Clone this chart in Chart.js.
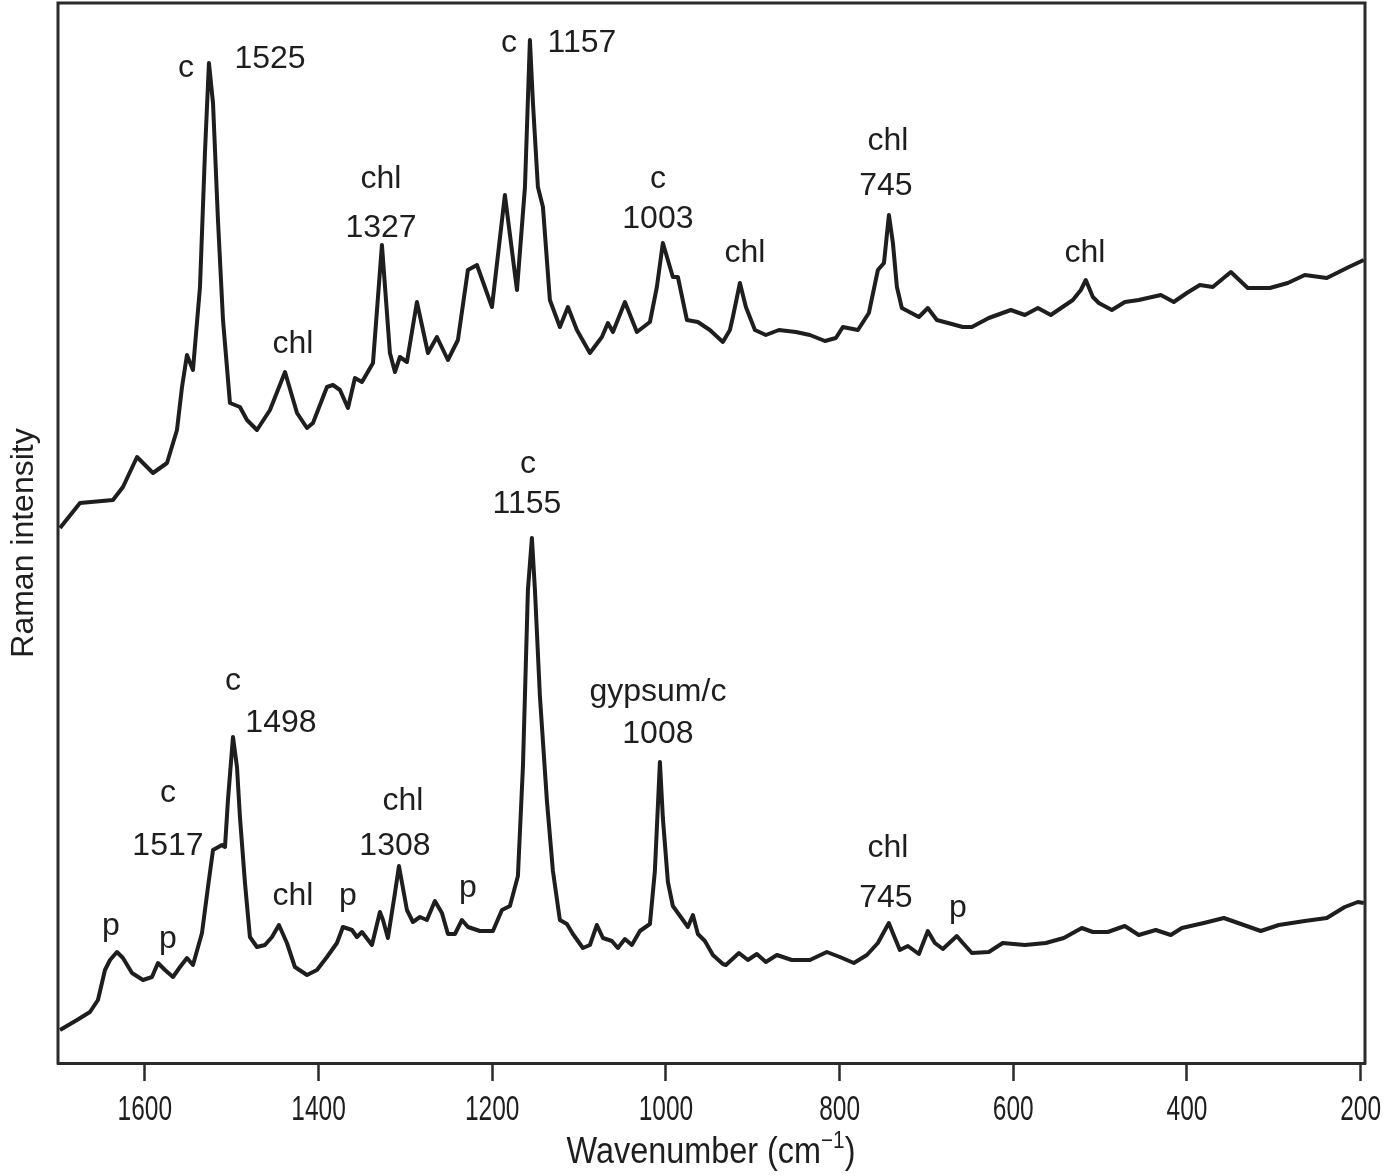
<!DOCTYPE html>
<html>
<head>
<meta charset="utf-8">
<script src="https://cdn.jsdelivr.net/npm/chart.js@4.4.1/dist/chart.umd.min.js"></script>
<style>
html,body{margin:0;padding:0;background:#fff;}
canvas{display:block;}
</style>
</head>
<body>
<canvas id="c" width="1388" height="1176"></canvas>
<script>
// ---------- data (wavenumber in cm-1, intensity in arbitrary units) ----------
const upperWn = [1697.7,1674.7,1636.7,1625.2,1609.0,1590.6,1574.5,1563.0,1557.2,1551.5,1544.6,1536.5,1530.8,1526.2,1521.5,1515.8,1510.0,1502.0,1490.5,1482.4,1470.9,1455.9,1438.6,1424.8,1413.3,1406.4,1390.3,1383.4,1375.3,1366.1,1358.1,1350.0,1337.3,1327.0,1317.8,1312.0,1306.3,1298.2,1286.7,1274.0,1263.7,1251.0,1239.5,1228.0,1217.6,1200.3,1185.4,1171.5,1162.3,1156.6,1153.1,1147.4,1141.6,1133.6,1122.1,1112.8,1102.5,1087.5,1073.7,1066.8,1061.0,1047.2,1033.4,1018.4,1010.4,1003.5,992.0,986.2,975.8,963.2,949.4,934.4,926.3,922.9,914.8,907.9,897.5,884.9,869.9,850.3,834.2,816.9,804.3,796.2,778.9,766.3,755.9,748.9,743.2,738.6,734.0,728.3,708.7,698.4,688.0,658.1,647.7,628.2,602.8,586.7,571.7,556.8,531.4,522.2,516.5,508.4,501.5,486.5,471.5,455.5,430.1,415.2,400.2,385.2,370.3,349.5,330.0,304.6,283.9,264.3,239.0,213.6,196.4];
const upperInt = [535,560,563,576,606,590,600,633,676,708,693,776,910,1000,960,843,743,660,656,643,633,653,691,650,635,640,676,678,673,655,685,681,700,818,710,691,706,701,761,710,726,703,723,793,798,756,868,773,876,1023,960,876,856,763,736,756,733,710,726,740,731,761,731,741,776,820,786,786,743,741,733,721,733,746,780,756,733,728,733,731,728,722,725,736,733,750,793,800,848,820,776,755,746,755,743,736,736,745,753,748,755,748,763,773,783,766,760,753,761,763,768,761,770,778,776,791,775,775,780,788,785,796,803];

const lowerWn = [1697.7,1678.1,1663.2,1654.0,1645.9,1640.1,1632.1,1625.2,1614.8,1602.1,1591.8,1584.9,1576.8,1567.6,1559.5,1551.5,1544.6,1534.2,1527.3,1521.5,1511.2,1507.7,1504.3,1498.5,1493.9,1490.5,1484.7,1479.0,1470.9,1461.7,1453.6,1445.6,1436.4,1427.2,1413.3,1401.8,1390.3,1378.8,1371.9,1361.5,1355.8,1350.0,1338.5,1329.3,1325.8,1320.1,1312.0,1307.4,1298.2,1291.3,1283.2,1275.2,1266.0,1257.9,1251.0,1242.9,1234.9,1227.9,1214.2,1199.2,1188.8,1179.6,1170.4,1164.6,1158.9,1154.3,1150.8,1145.1,1137.0,1130.1,1122.1,1114.0,1107.1,1095.6,1087.5,1079.5,1072.5,1062.2,1055.3,1047.2,1039.2,1029.9,1018.4,1012.7,1006.9,1003.5,997.7,992.0,986.2,980.4,974.7,968.9,963.2,955.1,945.9,934.4,930.9,915.9,905.6,895.3,884.9,872.2,855.0,834.2,814.7,799.7,783.6,768.6,755.9,749.0,743.3,738.7,730.6,721.4,708.7,698.4,690.3,681.1,665.0,658.1,647.7,628.2,612.1,586.7,562.6,541.8,521.1,508.4,491.2,471.6,455.5,435.9,418.6,405.9,380.6,357.6,334.6,315.0,294.3,264.4,239.0,218.3,203.3,196.4];
const lowerInt = [33,43,51,63,93,103,111,105,90,83,86,100,93,86,96,105,98,130,176,213,218,216,263,326,296,246,180,126,116,118,126,138,120,96,88,93,106,120,136,133,126,131,118,151,143,125,170,197,153,141,146,143,162,150,129,129,143,136,132,132,153,157,187,297,473,525,473,367,262,192,143,139,129,115,118,138,125,122,115,124,118,132,139,192,301,245,181,157,150,143,136,148,129,122,108,99,98,110,103,109,101,108,103,103,111,106,100,108,120,131,140,130,113,117,109,132,120,114,127,120,110,111,120,118,120,125,135,131,131,137,128,133,128,135,140,145,138,132,138,142,145,156,161,160];

const tickValues = [1600,1400,1200,1000,800,600,400,200];

// peak annotations: text, wavenumber, intensity (baseline anchor)
const annoText = ["c","1525","chl","1327","chl","c","1157","c","1003","chl","chl","745","chl",
                  "c","1155","gypsum/c","1008","chl","1308","p","c","1498","c","1517","chl","p","p","p","chl","745","p"];
const annoWn   = [1552.6,1455.9,1328.1,1328.1,1429.4,1180.8,1096.7,1009.2,1009.2,909.1,744.4,746.7,517.6,
                  1158.9,1160.0,1009.2,1009.2,1302.8,1312.0,1228.0,1498.5,1443.3,1573.4,1573.4,1429.4,1366.1,1639.0,1573.4,744.4,746.7,663.8];
const annoInt  = [986,995,875,826,710,1011,1011,875,835,801,913,868,801,
                  590,550,362,320,253,208,166,373,331,261,208,158,158,128,115,206,156,146];

const xTitle = "Wavenumber (cm";
const xTitleSup = "\u22121";
const yTitle = "Raman intensity";

// ---------- styles ----------
const INK = '#1e1e1e';
const REG = '"Liberation Sans", Arial, sans-serif';

function condensedText(ctx, text, x, y, size, squeeze, align){
  ctx.save();
  ctx.font = size + 'px ' + REG;
  ctx.translate(x, y);
  ctx.scale(squeeze, 1);
  ctx.textAlign = align; ctx.textBaseline = 'alphabetic';
  ctx.fillText(text, 0, 0);
  ctx.restore();
}

// ---------- plugins ----------
const decor = {
  id: 'decor',
  afterDraw(chart){
    const {ctx, chartArea:a, scales:{x, y}} = chart;
    ctx.save();
    // frame (left, top, right)
    ctx.strokeStyle = '#2a2a2a'; ctx.lineWidth = 3; ctx.lineCap = 'square';
    ctx.beginPath();
    ctx.moveTo(a.left, a.bottom); ctx.lineTo(a.left, a.top);
    ctx.lineTo(a.right, a.top); ctx.lineTo(a.right, a.bottom);
    ctx.stroke();
    ctx.fillStyle = INK;
    // tick labels (condensed)
    for (const v of tickValues){
      condensedText(ctx, String(v), x.getPixelForValue(v), 1120, 35, 0.7, 'center');
    }
    // annotations
    ctx.font = '32px ' + REG;
    ctx.textAlign = 'center'; ctx.textBaseline = 'alphabetic';
    for (let i = 0; i < annoText.length; i++){
      ctx.fillText(annoText[i], x.getPixelForValue(annoWn[i]), y.getPixelForValue(annoInt[i]));
    }
    // y title
    ctx.save();
    ctx.translate(33, (a.top + a.bottom)/2 + 10);
    ctx.rotate(-Math.PI/2);
    ctx.font = '32px ' + REG;
    ctx.textAlign = 'center';
    ctx.fillText(yTitle, 0, 0);
    ctx.restore();
    // x title with superscript (condensed)
    const sz = 36, sq = 0.9, supSz = 23;
    ctx.font = sz + 'px ' + REG; const w1 = ctx.measureText(xTitle).width * sq; const w3 = ctx.measureText(')').width * sq;
    ctx.font = supSz + 'px ' + REG; const w2 = ctx.measureText(xTitleSup).width * sq;
    let cx = 711 - (w1 + w2 + w3)/2; const by = 1163;
    condensedText(ctx, xTitle, cx, by, sz, sq, 'left'); cx += w1;
    condensedText(ctx, xTitleSup, cx, by - 15, supSz, sq, 'left'); cx += w2;
    condensedText(ctx, ')', cx, by, sz, sq, 'left');
    ctx.restore();
  }
};

new Chart(document.getElementById('c'), {
  type: 'line',
  data: {
    datasets: [
      { data: upperWn.map((w,i)=>({x:w, y:upperInt[i]})), borderColor: INK, borderWidth: 4, pointRadius: 0, tension: 0, borderJoinStyle: 'round', fill: false },
      { data: lowerWn.map((w,i)=>({x:w, y:lowerInt[i]})), borderColor: INK, borderWidth: 4, pointRadius: 0, tension: 0, borderJoinStyle: 'round', fill: false }
    ]
  },
  options: {
    responsive: false,
    animation: false,
    devicePixelRatio: 1,
    layout: { padding: { left: 58, right: 23, top: 3, bottom: 0 } },
    plugins: { legend: { display: false }, tooltip: { enabled: false } },
    scales: {
      x: {
        type: 'linear', reverse: true, min: 195, max: 1700,
        afterBuildTicks: ax => { ax.ticks = tickValues.map(v => ({ value: v })); },
        afterFit: ax => { ax.height = 113; ax.paddingLeft = 0; ax.paddingRight = 0; },
        ticks: { display: false, autoSkip: false, maxRotation: 0 },
        grid: { drawOnChartArea: false, drawTicks: true, tickLength: 18, tickWidth: 2.5, tickColor: '#2a2a2a' },
        border: { display: true, width: 3, color: '#2a2a2a' }
      },
      y: { display: false, min: 0, max: 1060 }
    }
  },
  plugins: [decor]
});
</script>
</body>
</html>
